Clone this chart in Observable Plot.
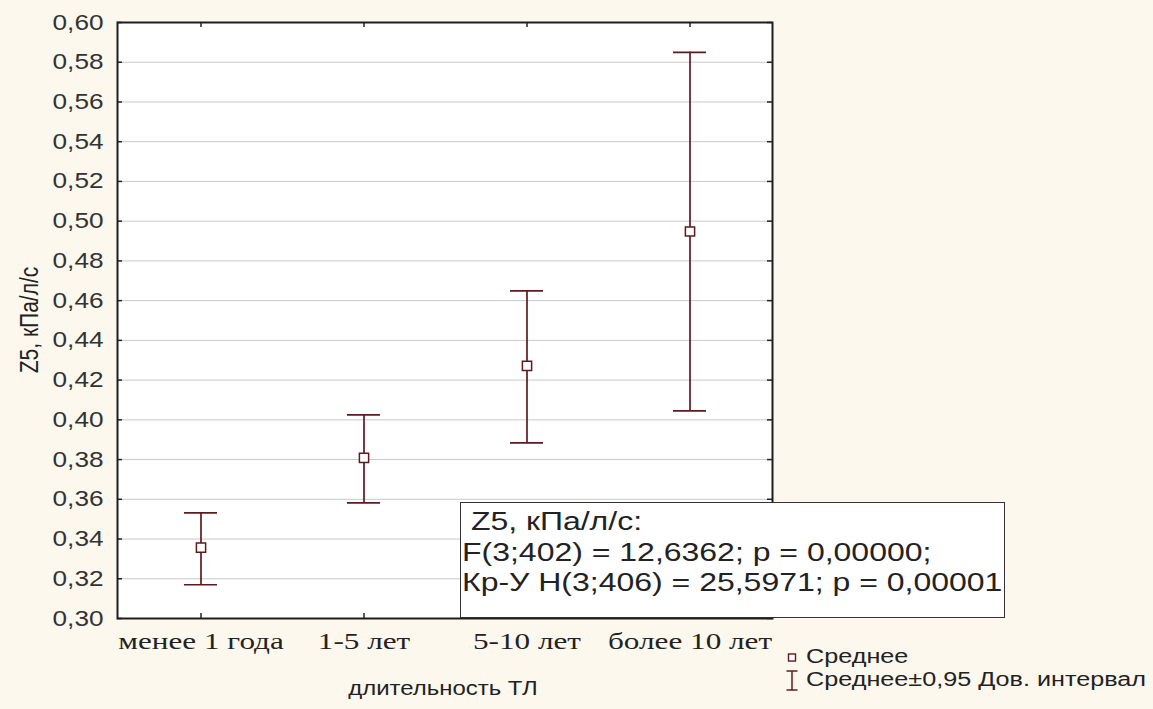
<!DOCTYPE html>
<html>
<head>
<meta charset="utf-8">
<script src="https://cdn.jsdelivr.net/npm/d3@7"></script>
<script src="https://cdn.jsdelivr.net/npm/@observablehq/plot@0.6"></script>
<style>
  html, body { margin: 0; padding: 0; background: #fdf8ee; }
  #wrap { position: relative; width: 1153px; height: 709px; background: #fdf8ee; overflow: hidden; font-family: "Liberation Sans", Arial, sans-serif; color: #222; }
  #chart { position: absolute; left: 0; top: 0; }
  .abs { position: absolute; white-space: nowrap; }
  #statbox { left: 460px; top: 502px; width: 545px; height: 116px; background: #fff; border: 1.5px solid #333; box-sizing: border-box; overflow: hidden; }
  #statbox .inner { position: absolute; left: 1px; top: 3px; font-size: 26px; line-height: 30.5px; transform: scaleX(1.23); transform-origin: 0 0; }
  #ytitle { left: 30px; top: 320px; font-size: 21px; transform: translate(-50%, -50%) scaleX(1.2) rotate(-90deg); }
  #xtitle { left: 443px; top: 688px; font-size: 21px; transform: translate(-50%, -50%) scaleX(1.14); }
  .leg { font-size: 20px; transform: scaleX(1.26); transform-origin: 0 50%; }
</style>
</head>
<body>
<div id="wrap">
  <div id="chart"></div>
  <div id="ytitle" class="abs">Z5, кПа/л/с</div>
  <div id="xtitle" class="abs">длительность ТЛ</div>
  <div id="statbox" class="abs"><div class="inner">&nbsp;Z5, кПа/л/с:<br>F(3;402) = 12,6362; p = 0,00000;<br>Кр-У H(3;406) = 25,5971; p = 0,00001</div></div>
  <svg class="abs" style="left:784px;top:650px" width="18" height="44">
    <rect x="4.5" y="4" width="7" height="7" fill="#fff" stroke="#5e1b1e" stroke-width="1.4"/>
    <line x1="8" y1="21" x2="8" y2="40" stroke="#5e1b1e" stroke-width="1.5"/>
    <line x1="2.5" y1="21" x2="13.5" y2="21" stroke="#5e1b1e" stroke-width="1.5"/>
    <line x1="2.5" y1="40" x2="13.5" y2="40" stroke="#5e1b1e" stroke-width="1.5"/>
  </svg>
  <div class="abs leg" style="left:806px;top:645px">Среднее</div>
  <div class="abs leg" style="left:806px;top:668px">Среднее±0,95 Дов. интервал</div>
</div>
<script>
const categories = ["менее 1 года", "1-5 лет", "5-10 лет", "более 10 лет"];
const means = [0.3357, 0.3809, 0.4272, 0.4948];
const lower = [0.3170, 0.3582, 0.3884, 0.4045];
const upper = [0.3532, 0.4025, 0.4649, 0.5850];
const yTicks = [0.30, 0.32, 0.34, 0.36, 0.38, 0.40, 0.42, 0.44, 0.46, 0.48, 0.50, 0.52, 0.54, 0.56, 0.58, 0.60];

const data = categories.map((c, i) => ({cat: c, mean: means[i], lo: lower[i], hi: upper[i]}));
const col = "#5e1b1e";
const W = 1153, H = 709;
const mL = 117, mT = 22, mR = 381, mB = 91;
const fw = W - mL - mR, fh = H - mT - mB;
const fmt = d => d.toFixed(2).replace(".", ",");

const chart = Plot.plot({
  width: W,
  height: H,
  marginLeft: mL, marginTop: mT, marginRight: mR, marginBottom: mB,
  style: {background: "transparent", fontFamily: "'Liberation Sans', Arial, sans-serif", color: "#222"},
  x: {type: "band", domain: categories, padding: 0},
  y: {domain: [0.30, 0.60]},
  marks: [
    Plot.frame({fill: "#fff", stroke: null}),
    Plot.gridY(yTicks, {stroke: "#c9c9c9", strokeOpacity: 1, strokeWidth: 1}),
    Plot.ruleX(data, {x: "cat", y1: "lo", y2: "hi", stroke: col, strokeWidth: 1.7}),
    Plot.tickY(data, {x: "cat", y: "lo", stroke: col, strokeWidth: 1.7, insetLeft: 65, insetRight: 65}),
    Plot.tickY(data, {x: "cat", y: "hi", stroke: col, strokeWidth: 1.7, insetLeft: 65, insetRight: 65}),
    Plot.dot(data, {x: "cat", y: "mean", symbol: "square", r: 5.2, stroke: col, fill: "#fff", strokeWidth: 1.5}),
    // inward ticks
    Plot.tickY(yTicks, {y: d => d, stroke: "#222", strokeWidth: 1.5, insetRight: fw - 5}),
    Plot.tickY(yTicks, {y: d => d, stroke: "#222", strokeWidth: 1.5, insetLeft: fw - 5}),
    Plot.tickX(categories, {x: d => d, stroke: "#222", strokeWidth: 1.5, insetTop: fh - 5}),
    Plot.tickX(categories, {x: d => d, stroke: "#222", strokeWidth: 1.5, insetBottom: fh - 5}),
    Plot.frame({stroke: "#1e1e1e", strokeWidth: 2}),
    Plot.axisY(yTicks, {tickSize: 0, tickPadding: 14, tickFormat: fmt, fontSize: 22, label: null, fill: "#333"}),
    Plot.axisX(categories, {tickSize: 0, tickPadding: 13, fontSize: 24, label: null, fontFamily: "'Liberation Serif', 'Times New Roman', serif", fill: "#222"})
  ]
});
// widen tick label glyphs horizontally, as in the reference
function widen(sel, k) {
  chart.querySelectorAll(sel).forEach(t => {
    const tr = t.getAttribute("transform");
    if (tr) t.setAttribute("transform", tr + ` scale(${k},1)`);
  });
}
widen('g[aria-label="y-axis tick label"] text', 1.19);
widen('g[aria-label="x-axis tick label"] text', 1.3);
document.getElementById("chart").appendChild(chart);
</script>
</body>
</html>
